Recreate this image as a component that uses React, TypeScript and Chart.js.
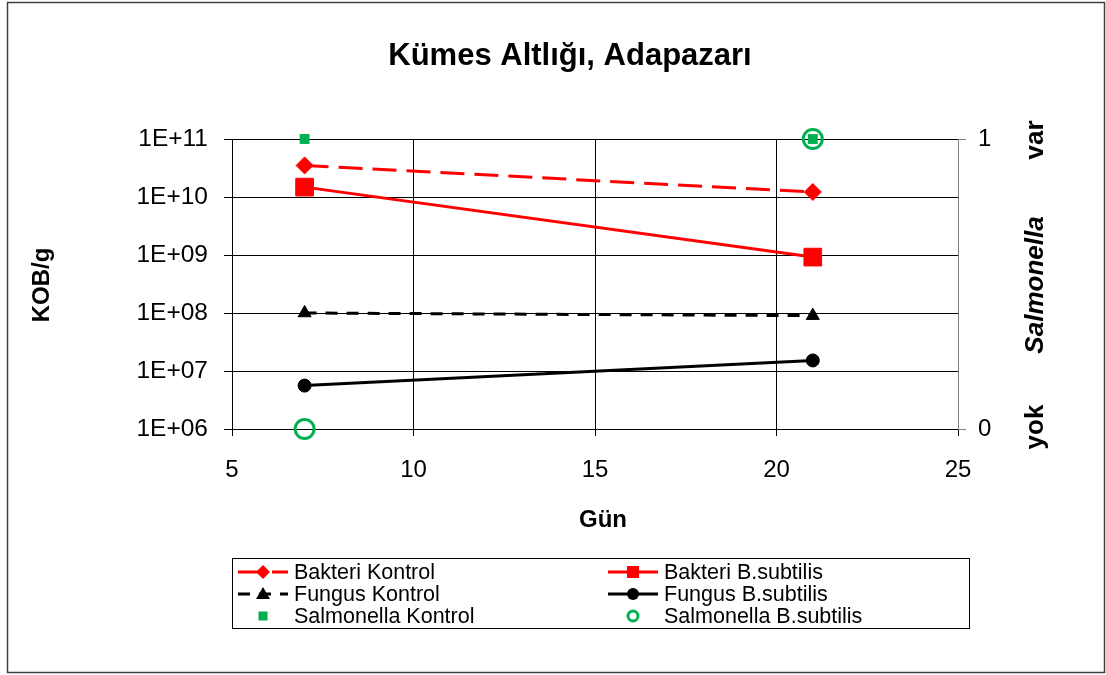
import React, { useEffect, useRef } from 'react';
import { Chart, registerables } from 'chart.js';

Chart.register(...registerables);

// ---- data ----
const days = [7, 21];
const bakteriKontrol = [3.5e10, 1.22e10];
const bakteriBsubtilis = [1.48e10, 9.2e8];
const fungusKontrol = [1e8, 9e7];
const fungusBsubtilis = [5.6e6, 1.52e7];
const salmonellaKontrol = [1, 1];
const salmonellaBsubtilis = [0, 1];

const seriesNames = [
  'Bakteri Kontrol',
  'Bakteri B.subtilis',
  'Fungus Kontrol',
  'Fungus B.subtilis',
  'Salmonella Kontrol',
  'Salmonella B.subtilis',
];

const xTicks = [5, 10, 15, 20, 25];
const leftTicks = [1e6, 1e7, 1e8, 1e9, 1e10, 1e11];
const rightTicks = [0, 1];

const chartTitle = 'Kümes Altlığı, Adapazarı';
const xTitle = 'Gün';
const yTitle = 'KOB/g';
const rightLabelTop = 'var';
const rightLabelMid = 'Salmonella';
const rightLabelBottom = 'yok';

const FONT = 'Arial, "Liberation Sans", sans-serif';
const RED = '#FF0000';
const GREEN = '#00B050';

function fmtExp(v: number): string {
  const e = Math.round(Math.log10(v));
  return '1E+' + String(e).padStart(2, '0');
}

function pts(ys: number[]) {
  return days.map((d, i) => ({ x: d, y: ys[i] }));
}

function drawMarker(ctx: CanvasRenderingContext2D, kind: string, x: number, y: number) {
  ctx.save();
  ctx.setLineDash([]);
  if (kind === 'diamond') {
    const r = 7;
    ctx.fillStyle = RED;
    ctx.beginPath();
    ctx.moveTo(x - r, y); ctx.lineTo(x, y - r); ctx.lineTo(x + r, y); ctx.lineTo(x, y + r);
    ctx.closePath(); ctx.fill();
  } else if (kind === 'square') {
    ctx.fillStyle = RED;
    ctx.fillRect(x - 6, y - 6, 12, 12);
  } else if (kind === 'triangle') {
    ctx.fillStyle = '#000';
    ctx.beginPath();
    ctx.moveTo(x, y - 7); ctx.lineTo(x + 7, y + 5); ctx.lineTo(x - 7, y + 5);
    ctx.closePath(); ctx.fill();
  } else if (kind === 'circle') {
    ctx.fillStyle = '#000';
    ctx.beginPath(); ctx.arc(x, y, 6, 0, Math.PI * 2); ctx.fill();
  } else if (kind === 'gsquare') {
    ctx.fillStyle = GREEN;
    ctx.fillRect(x - 4.5, y - 4.5, 9, 9);
  } else if (kind === 'ring') {
    ctx.strokeStyle = GREEN; ctx.lineWidth = 3;
    ctx.beginPath(); ctx.arc(x, y, 5, 0, Math.PI * 2); ctx.stroke();
  }
  ctx.restore();
}

const legendItems = [
  { name: seriesNames[0], col: 0, row: 0, color: RED, dash: [24, 10], line: true, marker: 'diamond' },
  { name: seriesNames[1], col: 1, row: 0, color: RED, dash: [], line: true, marker: 'square' },
  { name: seriesNames[2], col: 0, row: 1, color: '#000', dash: [12, 9], line: true, marker: 'triangle' },
  { name: seriesNames[3], col: 1, row: 1, color: '#000', dash: [], line: true, marker: 'circle' },
  { name: seriesNames[4], col: 0, row: 2, color: GREEN, dash: [], line: false, marker: 'gsquare' },
  { name: seriesNames[5], col: 1, row: 2, color: GREEN, dash: [], line: false, marker: 'ring' },
];

const decorPlugin = {
  id: 'decor',
  beforeDraw(chart: any) {
    const ctx: CanvasRenderingContext2D = chart.ctx;
    ctx.save();
    ctx.fillStyle = '#fff';
    ctx.fillRect(0, 0, chart.width, chart.height);
    ctx.strokeStyle = '#404040';
    ctx.lineWidth = 1.5;
    ctx.strokeRect(7.5, 2.5, 1097, 670);
    ctx.restore();
  },
  afterDraw(chart: any) {
    const ctx: CanvasRenderingContext2D = chart.ctx;
    ctx.save();
    ctx.fillStyle = '#000';
    ctx.textAlign = 'center';
    ctx.textBaseline = 'middle';
    // title
    ctx.font = `bold 31px ${FONT}`;
    ctx.fillText(chartTitle, 570, 56);
    // x title
    ctx.font = `bold 24px ${FONT}`;
    ctx.fillText(xTitle, 603, 520);
    // y title
    ctx.save();
    ctx.translate(42, 285);
    ctx.rotate(-Math.PI / 2);
    ctx.fillText(yTitle, 0, 0);
    ctx.restore();
    // right labels
    const rl = (t: string, y: number, italic: boolean) => {
      ctx.save();
      ctx.translate(1036, y);
      ctx.rotate(-Math.PI / 2);
      ctx.font = `${italic ? 'italic ' : ''}bold 26px ${FONT}`;
      ctx.fillText(t, 0, 0);
      ctx.restore();
    };
    rl(rightLabelTop, 140, false);
    rl(rightLabelMid, 285, true);
    rl(rightLabelBottom, 427, false);

    // legend box
    ctx.strokeStyle = '#000';
    ctx.lineWidth = 1;
    ctx.strokeRect(232.5, 558.5, 737, 70);
    const rowsY = [572, 594, 616];
    const colX = [238, 608];
    ctx.font = `21.5px ${FONT}`;
    ctx.textAlign = 'left';
    for (const it of legendItems) {
      const x0 = colX[it.col];
      const y = rowsY[it.row];
      if (it.line) {
        ctx.save();
        ctx.strokeStyle = it.color;
        ctx.lineWidth = 3;
        ctx.setLineDash(it.dash);
        ctx.beginPath();
        ctx.moveTo(x0, y);
        ctx.lineTo(x0 + 50, y);
        ctx.stroke();
        ctx.restore();
      }
      drawMarker(ctx, it.marker, x0 + 25, y);
      ctx.fillStyle = '#000';
      ctx.fillText(it.name, x0 + 56, y + 1);
    }
    ctx.restore();
  },
};

export default function App() {
  const ref = useRef<HTMLCanvasElement | null>(null);

  useEffect(() => {
    if (!ref.current) return;
    const chart = new Chart(ref.current, {
      type: 'scatter',
      data: {
        datasets: [
          {
            label: seriesNames[0], data: pts(bakteriKontrol), yAxisID: 'y', showLine: true, clip: false,
            borderColor: RED, backgroundColor: RED, borderWidth: 3, borderDash: [24, 10],
            pointStyle: 'rectRot', pointRadius: 8.5, pointBorderWidth: 1, pointBorderColor: RED, pointBackgroundColor: RED,
          },
          {
            label: seriesNames[1], data: pts(bakteriBsubtilis), yAxisID: 'y', showLine: true, clip: false,
            borderColor: RED, backgroundColor: RED, borderWidth: 3,
            pointStyle: 'rect', pointRadius: 12.5, pointBorderWidth: 1, pointBorderColor: RED, pointBackgroundColor: RED,
          },
          {
            label: seriesNames[2], data: pts(fungusKontrol), yAxisID: 'y', showLine: true, clip: false,
            borderColor: '#000', backgroundColor: '#000', borderWidth: 3, borderDash: [12, 9],
            pointStyle: 'triangle', pointRadius: 7.5, pointBorderWidth: 1, pointBorderColor: '#000', pointBackgroundColor: '#000',
          },
          {
            label: seriesNames[3], data: pts(fungusBsubtilis), yAxisID: 'y', showLine: true, clip: false,
            borderColor: '#000', backgroundColor: '#000', borderWidth: 3,
            pointStyle: 'circle', pointRadius: 6.5, pointBorderWidth: 1, pointBorderColor: '#000', pointBackgroundColor: '#000',
          },
          {
            label: seriesNames[4], data: pts(salmonellaKontrol), yAxisID: 'y1', showLine: false, clip: false,
            pointStyle: 'rect', pointRadius: 7, pointBorderWidth: 0, pointBorderColor: GREEN, pointBackgroundColor: GREEN,
            borderColor: GREEN, backgroundColor: GREEN,
          },
          {
            label: seriesNames[5], data: pts(salmonellaBsubtilis), yAxisID: 'y1', showLine: false, clip: false,
            pointStyle: 'circle', pointRadius: 9.5, pointBorderWidth: 3, pointBorderColor: GREEN,
            pointBackgroundColor: 'rgba(0,0,0,0)', borderColor: GREEN, backgroundColor: 'rgba(0,0,0,0)',
          },
        ] as any,
      },
      options: {
        animation: false,
        responsive: false,
        devicePixelRatio: 1,
        layout: { padding: { top: 139, left: 0, right: 0, bottom: 0 } },
        plugins: { legend: { display: false }, title: { display: false }, tooltip: { enabled: false } },
        events: [],
        scales: {
          x: {
            type: 'linear', min: 5, max: 25,
            afterBuildTicks: (s: any) => { s.ticks = xTicks.map((v) => ({ value: v })); },
            afterFit: (s: any) => { s.height = 246; },
            ticks: { font: { family: FONT, size: 24 }, color: '#000', padding: 20, maxRotation: 0, autoSkip: false },
            grid: {
              color: (c: any) => (c.tick && c.tick.value === 25 ? 'rgba(0,0,0,0)' : '#000'),
              tickColor: '#000', lineWidth: 1, tickLength: 7,
            },
            border: { color: '#000', width: 1 },
          },
          y: {
            type: 'logarithmic', position: 'left', min: 1e6, max: 1e11,
            afterBuildTicks: (s: any) => { s.ticks = leftTicks.map((v) => ({ value: v })); },
            afterFit: (s: any) => { s.width = 232; },
            ticks: { callback: (v: any) => fmtExp(Number(v)), font: { family: FONT, size: 24.5 }, color: '#000', padding: 16, autoSkip: false },
            grid: { color: '#000', lineWidth: 1, tickLength: 8 },
            border: { color: '#000', width: 1 },
          },
          y1: {
            type: 'linear', position: 'right', min: 0, max: 1,
            afterBuildTicks: (s: any) => { s.ticks = rightTicks.map((v) => ({ value: v })); },
            afterFit: (s: any) => { s.width = 148; },
            ticks: { font: { family: FONT, size: 24 }, color: '#000', padding: 12, autoSkip: false },
            grid: { drawOnChartArea: false, color: '#808080', tickLength: 8 },
            border: { color: '#808080', width: 1 },
          },
        },
      } as any,
      plugins: [decorPlugin],
    });
    return () => chart.destroy();
  }, []);

  return (
    <div style={{ position: 'fixed', left: 0, top: 0, width: 1106, height: 675, background: '#fff' }}>
      <canvas ref={ref} width={1106} height={675} style={{ width: 1106, height: 675, display: 'block' }} />
    </div>
  );
}
